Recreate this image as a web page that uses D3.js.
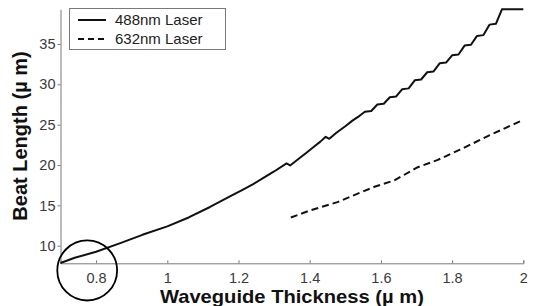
<!DOCTYPE html>
<html>
<head>
<meta charset="utf-8">
<script src="https://d3js.org/d3.v7.min.js"></script>
<style>
  body { margin: 0; background: #fff; }
  text { font-family: "Liberation Sans", Arial, Helvetica, sans-serif; }
</style>
</head>
<body>
<svg id="visualisation" width="533" height="306"></svg>
<script>
// thickness (um) and beat length (um)
var laser488X = [0.70, 0.74, 0.80, 0.87, 0.93, 1.00, 1.06, 1.12, 1.18, 1.21,
    1.24, 1.27, 1.30, 1.335, 1.345, 1.37, 1.39, 1.41, 1.43, 1.445, 1.455, 1.475, 1.50, 1.52, 1.54,
    1.555, 1.573, 1.590, 1.608, 1.625, 1.643, 1.660, 1.678, 1.695, 1.713, 1.730, 1.748, 1.765, 1.783,
    1.800, 1.818, 1.835, 1.853, 1.870, 1.888, 1.905, 1.923, 1.940, 2.00];
var laser488Y = [7.85, 8.5, 9.25, 10.35, 11.35, 12.4, 13.5, 14.8, 16.2, 16.9,
    17.6, 18.4, 19.2, 20.2, 19.95, 20.8, 21.5, 22.2, 22.9, 23.5, 23.25, 24.0, 24.8, 25.5, 26.1,
    26.6, 26.7, 27.5, 27.6, 28.4, 28.5, 29.4, 29.5, 30.5, 30.6, 31.5, 31.6, 32.6, 32.7,
    33.6, 33.7, 34.8, 34.9, 36.0, 36.1, 37.4, 37.5, 39.3, 39.3];

var laser632X = [1.347, 1.403, 1.478, 1.543, 1.582, 1.638, 1.702, 1.758, 1.822, 1.906, 1.98, 2.00];
var laser632Y = [13.5, 14.4, 15.4, 16.6, 17.3, 18.1, 19.7, 20.6, 21.9, 23.7, 25.2, 25.6];

var xTicks = [0.8, 1, 1.2, 1.4, 1.6, 1.8, 2];
var xTickLabels = ["0.8", "1", "1.2", "1.4", "1.6", "1.8", "2"];
var yTicks = [10, 15, 20, 25, 30, 35];

var seriesNames = ["488nm Laser", "632nm Laser"];

var initchart = function () {
    var vis = d3.select("#visualisation"),
        MARGINS = { top: 9.3, right: 9.7, bottom: 42.7, left: 60.5 },
        WIDTH = 533,
        HEIGHT = 306,
        xScale = d3.scaleLinear().domain([0.7, 2]).range([MARGINS.left, WIDTH - MARGINS.right]),
        yScale = d3.scaleLinear().domain([7.82, 39.3]).range([HEIGHT - MARGINS.bottom, MARGINS.top]);

    var xAxis = d3.axisBottom(xScale)
        .tickValues(xTicks)
        .tickFormat(function (d, i) { return xTickLabels[i]; })
        .tickSizeInner(-3)
        .tickSizeOuter(-3)
        .tickPadding(9);
    var yAxis = d3.axisLeft(yScale)
        .tickValues(yTicks)
        .tickSizeInner(3)
        .tickSizeOuter(0)
        .tickPadding(2);

    var gx = vis.append("g")
        .attr("class", "x axis")
        .attr("transform", "translate(0," + (HEIGHT - MARGINS.bottom) + ")")
        .call(xAxis);
    var gy = vis.append("g")
        .attr("class", "y axis")
        .attr("transform", "translate(" + MARGINS.left + ",0)")
        .call(yAxis);

    [gx, gy].forEach(function (g) {
        g.select(".domain").attr("stroke", "#7a7a7a").attr("stroke-width", 1);
        g.selectAll(".tick line").attr("stroke", "#7a7a7a");
        g.selectAll(".tick text")
            .attr("fill", "#3a3a3a")
            .style("font-size", "14.5px");
    });

    var lineGen = d3.line()
        .x(function (d) { return xScale(d[0]); })
        .y(function (d) { return yScale(d[1]); });

    var data488 = laser488X.map(function (x, i) { return [x, laser488Y[i]]; });
    var data632 = laser632X.map(function (x, i) { return [x, laser632Y[i]]; });

    vis.append("path")
        .attr("d", lineGen(data488))
        .attr("stroke", "#111")
        .attr("stroke-width", 2)
        .attr("stroke-linejoin", "round")
        .attr("fill", "none");
    vis.append("path")
        .attr("d", lineGen(data632))
        .attr("stroke", "#111")
        .attr("stroke-width", 2)
        .attr("stroke-dasharray", "7,4")
        .attr("fill", "none");

    // axis titles
    vis.append("text")
        .attr("x", (MARGINS.left + WIDTH - MARGINS.right) / 2)
        .attr("y", 302.5)
        .attr("text-anchor", "middle")
        .attr("textLength", 264)
        .attr("lengthAdjust", "spacingAndGlyphs")
        .style("font-size", "19px")
        .style("font-weight", "bold")
        .attr("fill", "#111")
        .text("Waveguide Thickness (\u00b5 m)");
    vis.append("text")
        .attr("transform", "translate(27,136) rotate(-90)")
        .attr("text-anchor", "middle")
        .style("font-size", "20px")
        .style("font-weight", "bold")
        .attr("fill", "#111")
        .text("Beat Length (\u00b5 m)");

    // legend
    var legend = vis.append("g").attr("transform", "translate(69,8)");
    legend.append("rect")
        .attr("x", 0.5).attr("y", 0.5)
        .attr("width", 156).attr("height", 41)
        .attr("fill", "#fff")
        .attr("stroke", "#7a7a7a");
    seriesNames.forEach(function (name, i) {
        legend.append("line")
            .attr("x1", 9).attr("x2", 37)
            .attr("y1", 12 + i * 19).attr("y2", 12 + i * 19)
            .attr("stroke", "#111")
            .attr("stroke-width", 2)
            .attr("stroke-dasharray", i === 0 ? null : "6,4");
        legend.append("text")
            .attr("x", 46)
            .attr("y", 17 + i * 18.5)
            .style("font-size", "15px")
            .attr("fill", "#222")
            .text(name);
    });

    // hand-drawn circle marking the lower-left corner
    var note = { x: 0.775, y: 6.93, rx: 0.084, ry: 3.72 };
    vis.append("ellipse")
        .attr("cx", xScale(note.x))
        .attr("cy", yScale(note.y))
        .attr("rx", xScale(note.x + note.rx) - xScale(note.x))
        .attr("ry", yScale(note.y) - yScale(note.y + note.ry))
        .attr("fill", "none")
        .attr("stroke", "#000")
        .attr("stroke-width", 1.8);
};

initchart();
</script>
</body>
</html>
